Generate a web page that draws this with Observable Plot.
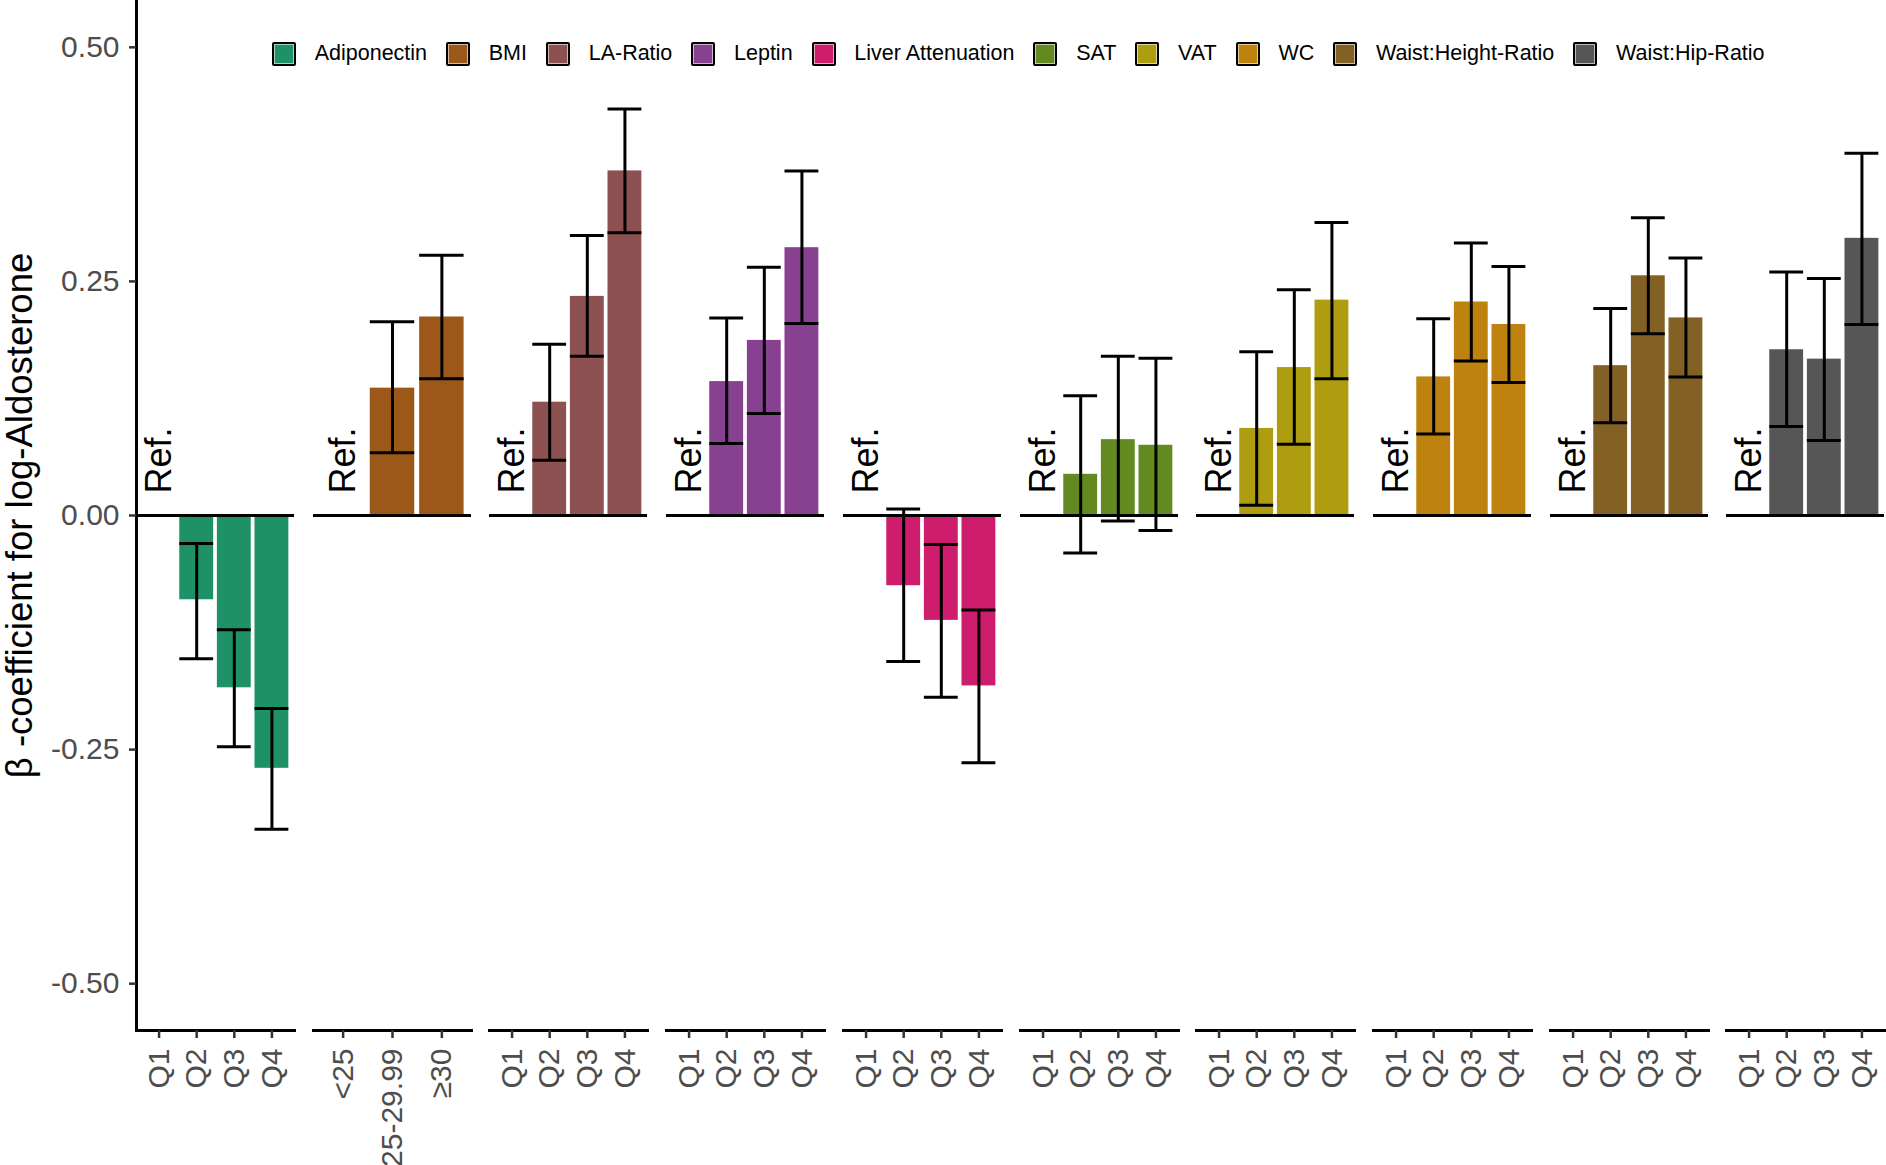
<!DOCTYPE html>
<html>
<head>
<meta charset="utf-8">
<script src="https://cdn.jsdelivr.net/npm/d3@7"></script>
<script src="https://cdn.jsdelivr.net/npm/@observablehq/plot@0.6"></script>
<style>
  html, body { margin: 0; padding: 0; background: #fff; }
  #chart { position: relative; width: 1886px; height: 1165px; font-family: "Liberation Sans", Arial, sans-serif; }
  .panel { position: absolute; top: 0; }
  #legend { position: absolute; left: 272px; top: 41px; display: flex; align-items: center; font-size: 21.5px; color: #000; white-space: nowrap; }
  .item { display: flex; align-items: center; margin-right: 19px; }
  .sw { width: 24px; height: 24px; box-sizing: border-box; border: 2.5px solid #000; border-radius: 2px; margin-right: 18.7px; box-shadow: inset 0 0 0 1px rgba(255,255,255,0.6); }
</style>
</head>
<body>
<div id="chart"><div id="legend"></div></div>
<script>
// ---------- data ----------
const groups = ["Adiponectin", "BMI", "LA-Ratio", "Leptin", "Liver Attenuation", "SAT", "VAT", "WC", "Waist:Height-Ratio", "Waist:Hip-Ratio"];
const quartileLabels = ["Q1", "Q2", "Q3", "Q4"];
const bmiLabels = ["<25", "25-29.99", "≥30"];
const groupColors = ["#1e9166", "#9b5818", "#8e5151", "#874190", "#cd1d6c", "#638a21", "#ae9d10", "#be820f", "#836024", "#565656"];
const yTicks = [-0.5, -0.25, 0, 0.25, 0.5];
const yLabel = "β -coefficient for log-Aldosterone";

// first category of each group is the reference (no estimate)
const betas = [
  [0, -0.090, -0.184, -0.270],
  [0, 0.136, 0.212],
  [0, 0.121, 0.234, 0.368],
  [0, 0.143, 0.187, 0.286],
  [0, -0.075, -0.112, -0.182],
  [0, 0.044, 0.081, 0.075],
  [0, 0.093, 0.158, 0.230],
  [0, 0.148, 0.228, 0.204],
  [0, 0.160, 0.256, 0.211],
  [0, 0.177, 0.167, 0.296]
];
const ciLower = [
  [null, -0.153, -0.247, -0.335],
  [null, 0.067, 0.146],
  [null, 0.059, 0.170, 0.302],
  [null, 0.077, 0.109, 0.205],
  [null, -0.156, -0.194, -0.264],
  [null, -0.040, -0.006, -0.016],
  [null, 0.011, 0.076, 0.146],
  [null, 0.087, 0.165, 0.142],
  [null, 0.099, 0.194, 0.148],
  [null, 0.095, 0.080, 0.204]
];
const ciUpper = [
  [null, -0.030, -0.122, -0.206],
  [null, 0.207, 0.278],
  [null, 0.183, 0.299, 0.434],
  [null, 0.211, 0.265, 0.368],
  [null, 0.007, -0.031, -0.101],
  [null, 0.128, 0.170, 0.168],
  [null, 0.175, 0.241, 0.313],
  [null, 0.210, 0.291, 0.266],
  [null, 0.221, 0.318, 0.275],
  [null, 0.260, 0.253, 0.387]
];

// ---------- layout ----------
const chart = document.getElementById("chart");
const axisMargin = 136, panelWidth = 158, panelStep = 176.7;
const plotHeight = 1165, bottomMargin = 135;
const yDomain = [-0.55, 0.55];
const font = "'Liberation Sans', Arial, sans-serif";

groups.forEach((g, k) => {
  const cats = g === "BMI" ? bmiLabels : quartileLabels;
  const rows = cats.map((c, i) => ({cat: c, beta: betas[k][i], lo: ciLower[k][i], hi: ciUpper[k][i]}));
  const est = rows.filter(d => d.lo != null);
  const refs = rows.filter(d => d.lo == null);
  const first = k === 0;
  const marks = [
    Plot.barY(est, {x: "cat", y1: 0, y2: "beta", fill: groupColors[k], inset: 0}),
    Plot.ruleY([0], {stroke: "black", strokeWidth: 3}),
    Plot.ruleX(est, {x: "cat", y1: "lo", y2: "hi", stroke: "black", strokeWidth: 3}),
    Plot.tickY(est, {x: "cat", y: "lo", stroke: "black", strokeWidth: 3}),
    Plot.tickY(est, {x: "cat", y: "hi", stroke: "black", strokeWidth: 3}),
    Plot.text(refs, {x: "cat", y: 0, text: () => "Ref.", rotate: -90, textAnchor: "start", dy: -22, fontSize: 36, fill: "black"}),
    Plot.frame({anchor: "bottom", stroke: "black", strokeWidth: 3}),
    Plot.axisX({tickRotate: -90, fontSize: 30, tickSize: 8, tickPadding: 10, strokeWidth: 2.5, stroke: "#333", fill: "#4d4d4d", label: null})
  ];
  if (first) {
    marks.push(
      Plot.frame({anchor: "left", stroke: "black", strokeWidth: 3}),
      Plot.axisY({ticks: yTicks, tickFormat: d => d.toFixed(2), fontSize: 30, tickSize: 7, tickPadding: 10, strokeWidth: 2.5, stroke: "#333", fill: "#4d4d4d", label: null}),
      Plot.text([yLabel], {frameAnchor: "left", rotate: -90, textAnchor: "middle", dx: -116, fontSize: 36.5, fill: "black"})
    );
  }
  const svg = Plot.plot({
    width: (first ? axisMargin : 0) + panelWidth,
    height: plotHeight,
    marginTop: 0,
    marginBottom: bottomMargin,
    marginLeft: first ? axisMargin : 0,
    marginRight: 0,
    x: {type: "band", domain: cats, paddingInner: 0.1, paddingOuter: 0.15, round: false},
    y: {domain: yDomain, axis: null},
    style: {fontFamily: font, background: "transparent", overflow: "visible"},
    marks
  });
  const wrap = document.createElement("div");
  wrap.className = "panel";
  wrap.style.left = (first ? 0 : axisMargin + k * panelStep) + "px";
  wrap.appendChild(svg);
  chart.appendChild(wrap);
});

// ---------- legend ----------
const legend = document.getElementById("legend");
groups.forEach((g, k) => {
  const item = document.createElement("div");
  item.className = "item";
  const sw = document.createElement("div");
  sw.className = "sw";
  sw.style.background = groupColors[k];
  const lab = document.createElement("span");
  lab.textContent = g;
  item.appendChild(sw);
  item.appendChild(lab);
  legend.appendChild(item);
});
</script>
</body>
</html>
